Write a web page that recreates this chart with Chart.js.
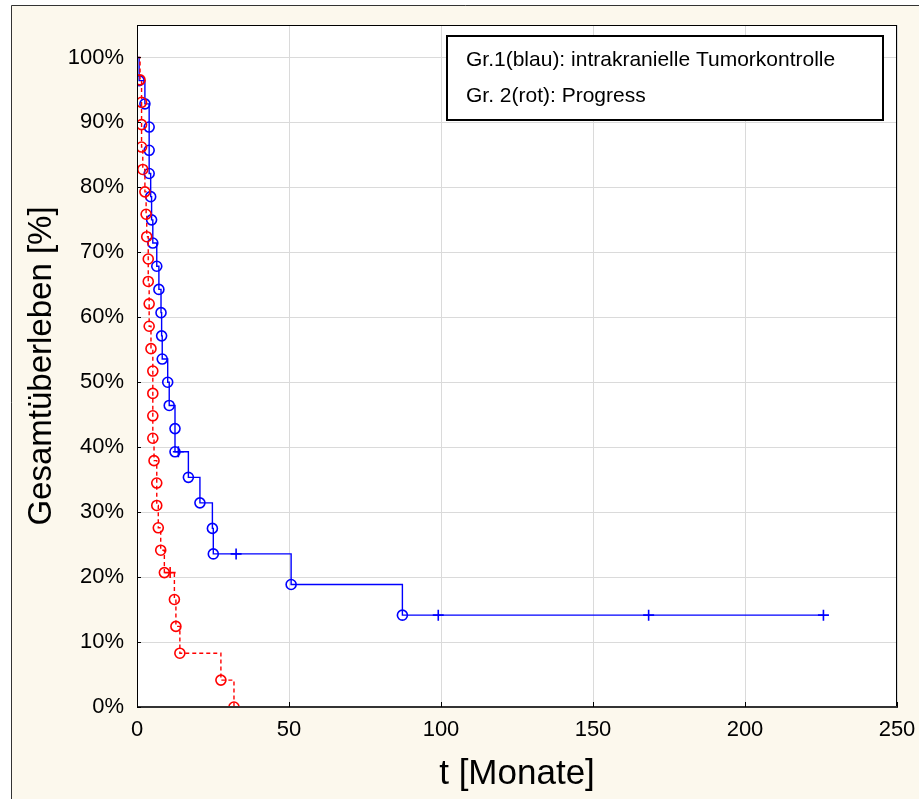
<!DOCTYPE html>
<html>
<head>
<meta charset="utf-8">
<script src="https://cdn.jsdelivr.net/npm/chart.js@4.4.1/dist/chart.umd.min.js"></script>
<style>
html, body { margin: 0; padding: 0; background: #fff; }
canvas { display: block; }
</style>
</head>
<body>
<canvas id="km" width="919" height="799"></canvas>
<script>
// Gr.1 (blau): intrakranielle Tumorkontrolle -- Kaplan-Meier Stufen
const zeitBlau = [0, 0.7, 2.6, 4.0, 4.0, 4.0, 4.5, 4.8, 5.2, 6.5, 7.2, 7.9, 8.1, 8.3, 10.1, 10.6, 12.5, 12.5,
  13.6, 16.9, 20.7, 24.8, 25.1, 32.6, 50.7, 87.3, 99.1, 168.3, 225.8];
const ueberlebenBlau = [100, 96.43, 92.86, 89.29, 85.71, 82.14, 78.57, 75.0, 71.43, 67.86, 64.29, 60.71, 57.14,
  53.57, 50.0, 46.43, 42.86, 39.29, 39.29, 35.36, 31.43, 27.5, 23.57, 23.57, 18.86, 14.14, 14.14, 14.14, 14.14];
const zensiertBlau = [0, 0, 0, 0, 0, 0, 0, 0, 0, 0, 0, 0, 0, 0, 0, 0, 0, 0,
  1, 0, 0, 0, 0, 1, 0, 0, 1, 1, 1];

// Gr. 2 (rot): Progress
const zeitRot = [0, 1.0, 1.5, 1.5, 1.5, 1.9, 2.6, 3.0, 3.2, 3.7, 3.7, 4.0, 4.0, 4.6, 5.2, 5.2, 5.2, 5.2, 5.6,
  6.5, 6.5, 7.0, 7.8, 9.0, 10.9, 12.3, 12.8, 14.1, 27.6, 31.9];
const ueberlebenRot = [100, 96.55, 93.1, 89.66, 86.21, 82.76, 79.31, 75.86, 72.41, 68.97, 65.52, 62.07, 58.62,
  55.17, 51.72, 48.28, 44.83, 41.38, 37.93, 34.48, 31.03, 27.59, 24.14, 20.69, 20.69, 16.55, 12.41, 8.28, 4.14, 0];
const zensiertRot = [0, 0, 0, 0, 0, 0, 0, 0, 0, 0, 0, 0, 0, 0, 0, 0, 0, 0, 0,
  0, 0, 0, 0, 0, 1, 0, 0, 0, 0, 0];

const xTicks = [0, 50, 100, 150, 200, 250];
const yTicks = [0, 10, 20, 30, 40, 50, 60, 70, 80, 90, 100];
const legendeTexte = ['Gr.1(blau): intrakranielle Tumorkontrolle', 'Gr. 2(rot): Progress'];
const titelX = 't [Monate]';
const titelY = 'Gesamtüberleben [%]';

const schrift = '"Liberation Sans", Arial, sans-serif';

function punkte(zeit, wert) {
  return zeit.map((t, i) => ({ x: t, y: wert[i] }));
}
function stil(zensiert) {
  return zensiert.map((z, i) => z ? 'cross' : 'circle');
}
function radien(zensiert) {
  return zensiert.map((z, i) => i === 0 ? 0 : (z ? 5.5 : 5));
}

const rahmen = {
  id: 'rahmen',
  beforeDraw(chart) {
    const ctx = chart.ctx;
    const a = chart.chartArea;
    ctx.save();
    ctx.fillStyle = '#ffffff';
    ctx.fillRect(0, 0, chart.width, chart.height);
    ctx.fillStyle = '#fcf8ed';
    ctx.fillRect(11, 5, chart.width - 11, chart.height - 5);
    ctx.strokeStyle = '#333';
    ctx.lineWidth = 1;
    ctx.beginPath();
    ctx.moveTo(11.5, chart.height);
    ctx.lineTo(11.5, 5.5);
    ctx.lineTo(chart.width, 5.5);
    ctx.stroke();
    ctx.fillStyle = '#ffffff';
    ctx.fillRect(a.left, a.top, a.right - a.left, a.bottom - a.top);
    ctx.restore();
  },
  afterDatasetsDraw(chart) {
    const ctx = chart.ctx;
    const a = chart.chartArea;
    const xs = chart.scales.x, ys = chart.scales.y;
    ctx.save();
    // Achsenrahmen
    ctx.strokeStyle = '#000';
    ctx.lineWidth = 1;
    ctx.strokeRect(a.left + 0.5, a.top + 0.5, a.right - a.left - 1, a.bottom - a.top);
    ctx.strokeStyle = '#333';
    ctx.lineWidth = 2;
    ctx.beginPath();
    ctx.moveTo(a.left, a.bottom);
    ctx.lineTo(a.right + 1, a.bottom);
    ctx.stroke();
    // kleine Teilstriche innen
    ctx.strokeStyle = '#000';
    ctx.lineWidth = 1;
    ctx.beginPath();
    yTicks.forEach(v => {
      const y = Math.round(ys.getPixelForValue(v)) + 0.5;
      ctx.moveTo(a.left, y);
      ctx.lineTo(a.left + 4, y);
    });
    xTicks.forEach(v => {
      const x = Math.round(xs.getPixelForValue(v)) + 0.5;
      ctx.moveTo(x, a.bottom);
      ctx.lineTo(x, a.bottom - 5);
    });
    ctx.stroke();
    // Legende
    ctx.fillStyle = '#fff';
    ctx.fillRect(446, 35, 438, 86);
    ctx.strokeStyle = '#000';
    ctx.lineWidth = 2;
    ctx.strokeRect(447, 36, 436, 84);
    ctx.fillStyle = '#000';
    ctx.font = '21px ' + schrift;
    ctx.textBaseline = 'alphabetic';
    ctx.textAlign = 'left';
    ctx.fillText(legendeTexte[0], 466, 66);
    ctx.fillText(legendeTexte[1], 466, 102);
    ctx.restore();
  },
  afterDraw(chart) {
    const ctx = chart.ctx;
    const a = chart.chartArea;
    ctx.save();
    ctx.fillStyle = '#000';
    ctx.textAlign = 'center';
    ctx.textBaseline = 'middle';
    ctx.font = '35px ' + schrift;
    ctx.fillText(titelX, (a.left + a.right) / 2, 774);
    ctx.translate(42, (a.top + a.bottom) / 2);
    ctx.rotate(-Math.PI / 2);
    ctx.font = '33px ' + schrift;
    ctx.fillText(titelY, 0, 0);
    ctx.restore();
  }
};

new Chart(document.getElementById('km'), {
  type: 'line',
  data: {
    datasets: [
      {
        label: legendeTexte[1],
        data: punkte(zeitRot, ueberlebenRot),
        borderColor: '#ff0000',
        borderWidth: 1.4,
        borderDash: [4, 3],
        stepped: 'before',
        pointStyle: stil(zensiertRot),
        pointRadius: radien(zensiertRot),
        pointBorderColor: '#ff0000',
        pointBackgroundColor: 'rgba(0,0,0,0)',
        pointBorderWidth: 1.6,
        fill: false,
        clip: 0,
        order: 0
      },
      {
        label: legendeTexte[0],
        data: punkte(zeitBlau, ueberlebenBlau),
        borderColor: '#0000ff',
        borderWidth: 1.4,
        stepped: 'before',
        pointStyle: stil(zensiertBlau),
        pointRadius: radien(zensiertBlau),
        pointBorderColor: '#0000ff',
        pointBackgroundColor: 'rgba(0,0,0,0)',
        pointBorderWidth: 1.6,
        fill: false,
        clip: 0,
        order: 1
      }
    ]
  },
  options: {
    responsive: false,
    animation: false,
    devicePixelRatio: 1,
    layout: { padding: { left: 0, top: 25, right: 22, bottom: 0 } },
    plugins: {
      legend: { display: false },
      tooltip: { enabled: false }
    },
    scales: {
      x: {
        type: 'linear',
        min: 0,
        max: 250,
        afterFit: s => { s.height = 92; s.paddingLeft = 0; s.paddingRight = 0; },
        afterBuildTicks: s => { s.ticks = xTicks.map(v => ({ value: v })); },
        grid: { color: '#dadada', lineWidth: 1, drawTicks: false },
        border: { display: false },
        ticks: {
          padding: 10,
          color: '#000',
          maxRotation: 0,
          font: { family: schrift, size: 22 }
        }
      },
      y: {
        type: 'linear',
        min: 0,
        max: 105,
        afterFit: s => { s.width = 137; s.paddingTop = 0; s.paddingBottom = 0; },
        afterBuildTicks: s => { s.ticks = yTicks.map(v => ({ value: v })); },
        grid: { color: '#dadada', lineWidth: 1, drawTicks: false },
        border: { display: false },
        ticks: {
          padding: 13,
          color: '#000',
          font: { family: schrift, size: 22 },
          callback: v => v + '%'
        }
      }
    }
  },
  plugins: [rahmen]
});
</script>
</body>
</html>
